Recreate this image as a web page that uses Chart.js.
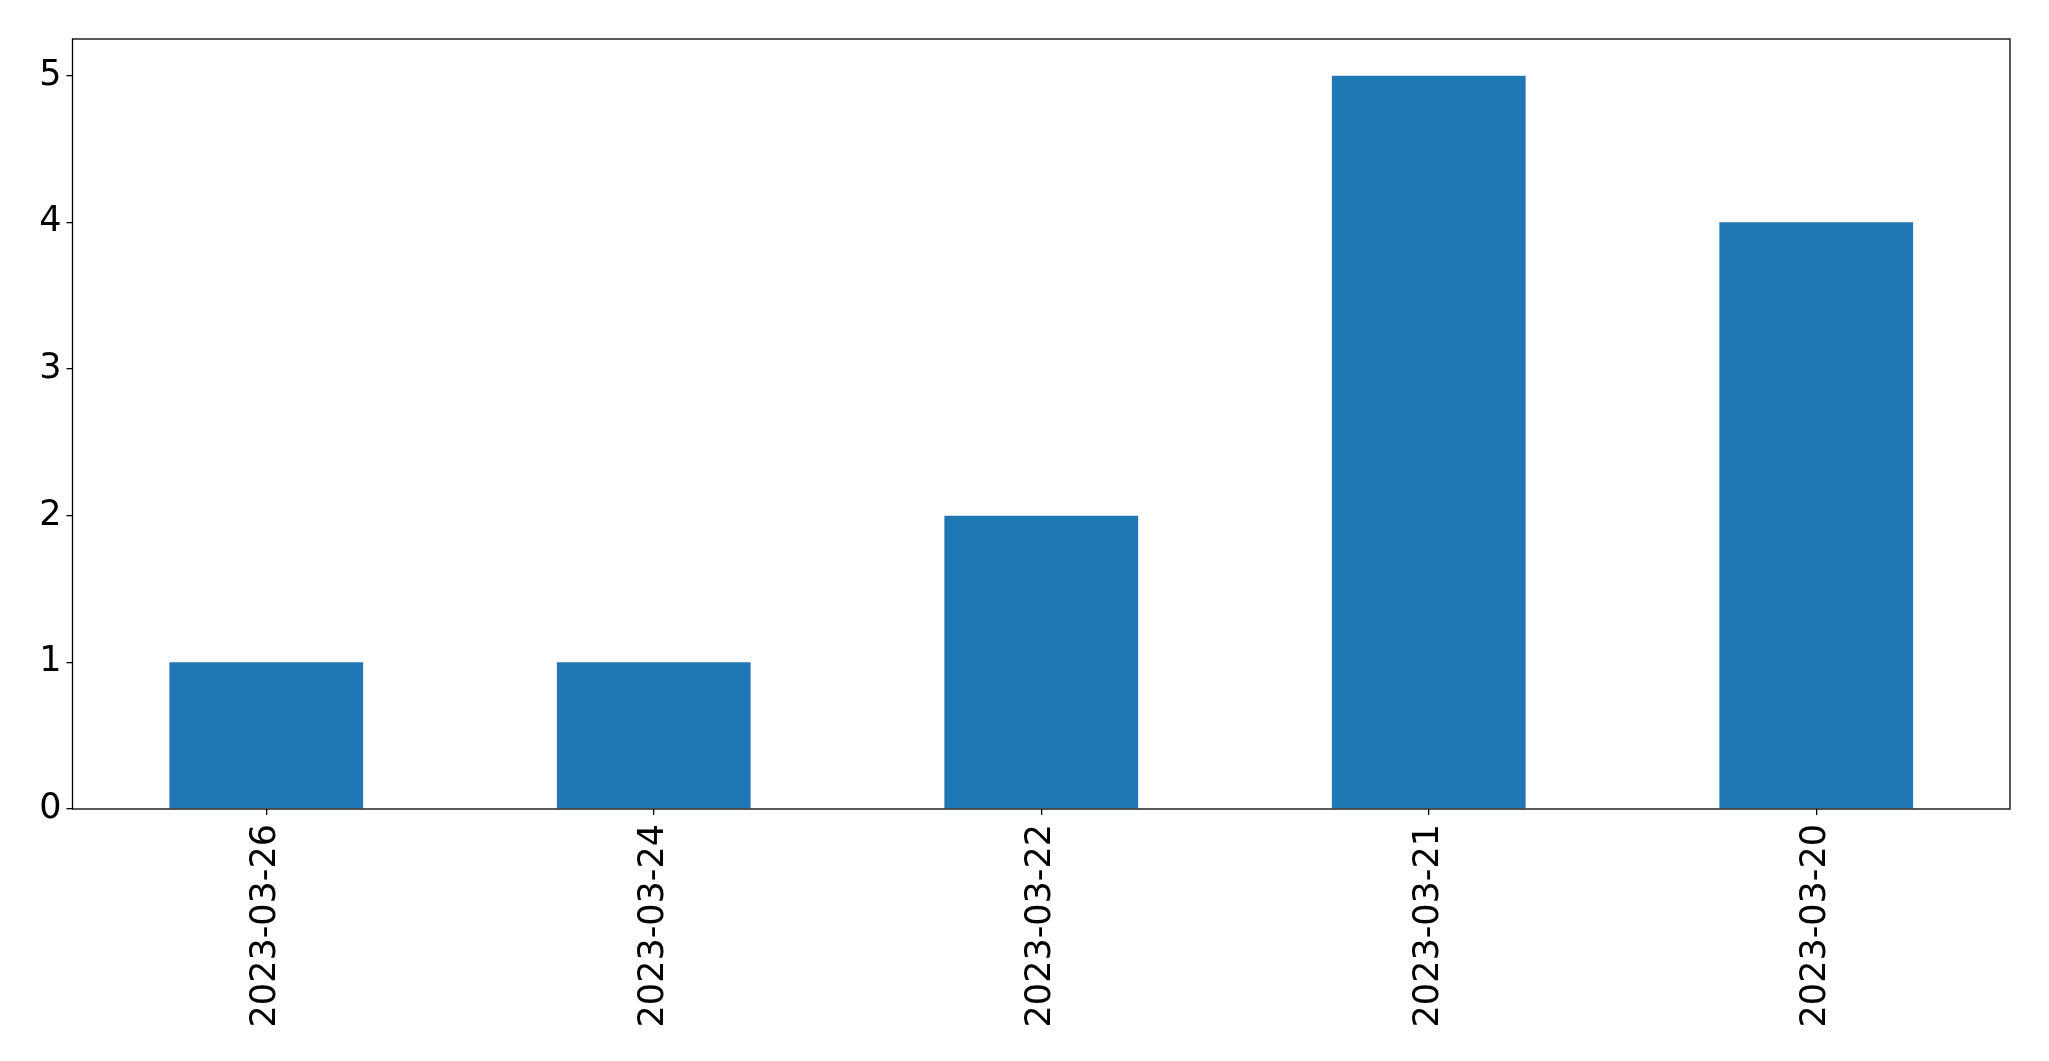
<!DOCTYPE html>
<html>
<head>
<meta charset="utf-8">
<script src="https://cdn.jsdelivr.net/npm/chart.js@4/dist/chart.umd.min.js"></script>
<style>
  html, body { margin: 0; padding: 0; background: #fff; }
  canvas { display: block; }
</style>
</head>
<body>
<canvas id="barChart" width="2049" height="1061"></canvas>
<script>
const categories = ["2023-03-26", "2023-03-24", "2023-03-22", "2023-03-21", "2023-03-20"];
const counts = [1, 1, 2, 5, 4];
const yTicks = [0, 1, 2, 3, 4, 5];

// frame around the plot area, like matplotlib spines
const framePlugin = {
    id: "frame",
    afterDraw(chart) {
        const { ctx, chartArea } = chart;
        ctx.save();
        ctx.strokeStyle = "#000";
        ctx.lineWidth = 1.3;
        ctx.strokeRect(chartArea.left, chartArea.top, chartArea.right - chartArea.left, chartArea.bottom - chartArea.top);
        ctx.restore();
    }
};

const ctx = document.getElementById("barChart").getContext("2d");

new Chart(ctx, {
    type: "bar",
    data: {
        labels: categories,
        datasets: [{
            data: counts,
            backgroundColor: "#1f77b4",
            borderWidth: 0,
            categoryPercentage: 1.0,
            barPercentage: 0.5
        }]
    },
    options: {
        responsive: false,
        animation: false,
        layout: { padding: { left: 0, top: 39, right: 39, bottom: 0 } },
        plugins: {
            legend: { display: false },
            tooltip: { enabled: false }
        },
        scales: {
            x: {
                offset: true,
                grid: { offset: false, drawOnChartArea: false, drawTicks: true, tickLength: 6, color: "#000", lineWidth: 1.3 },
                border: { display: false },
                ticks: {
                    color: "#000",
                    font: { family: "DejaVu Sans", size: 35 },
                    minRotation: 90,
                    maxRotation: 90,
                    padding: 9,
                    autoSkip: false
                },
                afterFit: scale => { scale.height = 252; }
            },
            y: {
                min: 0,
                max: 5.25,
                grid: { drawOnChartArea: false, drawTicks: true, tickLength: 6, color: "#000", lineWidth: 1.3 },
                border: { display: false },
                ticks: {
                    color: "#000",
                    font: { family: "DejaVu Sans", size: 35 },
                    padding: 5
                },
                afterBuildTicks: scale => { scale.ticks = yTicks.map(v => ({ value: v })); },
                afterFit: scale => { scale.width = 72.5; }
            }
        }
    },
    plugins: [framePlugin]
});
</script>
</body>
</html>
